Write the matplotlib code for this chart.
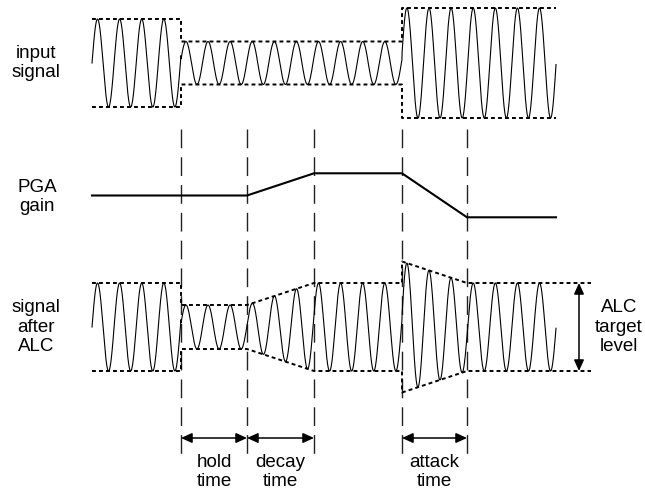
import numpy as np
import matplotlib.pyplot as plt

plt.rcParams['font.family'] = ['Liberation Sans', 'DejaVu Sans']

# time axis in drawing units (left = start, right = end)
t_start, t_end = 92, 556
cycle = 22.1                      # one carrier cycle
markers = [181, 247, 314, 402, 467]  # step down, hold end, decay end, step up, attack end

# input signal: centre line and envelope (half height)
in_mid = 63
in_t = [92, 181, 181.01, 402, 402.01, 556]
in_amp = [44, 44, 21.5, 21.5, 55, 55]

# PGA gain trace (lower value = higher gain)
gain_t = [92, 247, 314, 402, 467, 556]
gain_y = [195.5, 195.5, 173.3, 173.3, 217.3, 217.3]

# signal after ALC
out_mid = 327
out_t = [92, 181, 181.01, 247, 314, 402, 402.01, 467, 591]
out_amp = [44, 44, 22, 22, 44, 44, 65.5, 44, 44]

spans = [(181, 247, 'hold\ntime'), (247, 314, 'decay\ntime'), (402, 467, 'attack\ntime')]

fig = plt.figure(figsize=(6.45, 4.88), dpi=100)
ax = fig.add_axes([0, 0, 1, 1])
ax.set_xlim(0, 645)
ax.set_ylim(488, 0)
ax.axis('off')

# vertical timing markers
for m in markers:
    ax.plot([m, m], [129, 456], color='#222222', lw=1.0,
            linestyle=(0, (13.5, 6.5)), zorder=1)

env_style = dict(color='black', lw=1.4, linestyle=(0, (2.0, 1.6)), zorder=3)

def draw_signal(mid, t, amp):
    x = np.linspace(t_start, t_end, 4000)
    a = np.interp(x, t, amp)
    ax.plot(x, mid - a * np.sin(2 * np.pi * (x - t_start) / cycle),
            color='black', lw=0.8, zorder=2)
    ax.plot(t, [mid - v for v in amp], **env_style)
    ax.plot(t, [mid + v for v in amp], **env_style)

draw_signal(in_mid, in_t, in_amp)
draw_signal(out_mid, out_t, out_amp)

ax.plot(gain_t, gain_y, color='black', lw=1.5, zorder=3)

arrow = dict(arrowstyle='<|-|>,head_length=0.55,head_width=0.25', color='black',
             lw=1.1, shrinkA=0, shrinkB=0, mutation_scale=12)
for a, b, label in spans:
    ax.annotate('', xy=(a, 438), xytext=(b, 438), arrowprops=arrow)
    ax.text((a + b) / 2, 472, label, ha='center', va='center', fontsize=13.5,
            linespacing=1.08)

ax.annotate('', xy=(579, out_mid - out_amp[-1]), xytext=(579, out_mid + out_amp[-1]),
            arrowprops=arrow)

lab = dict(ha='center', va='center', fontsize=13.5, linespacing=1.2)
ax.text(36, in_mid, 'input\nsignal', **lab)
ax.text(37, 197, 'PGA\ngain', **lab)
ax.text(36, out_mid, 'signal\nafter\nALC', **lab)
ax.text(619, out_mid, 'ALC\ntarget\nlevel', **lab)

fig.savefig('out.png', dpi=100)
